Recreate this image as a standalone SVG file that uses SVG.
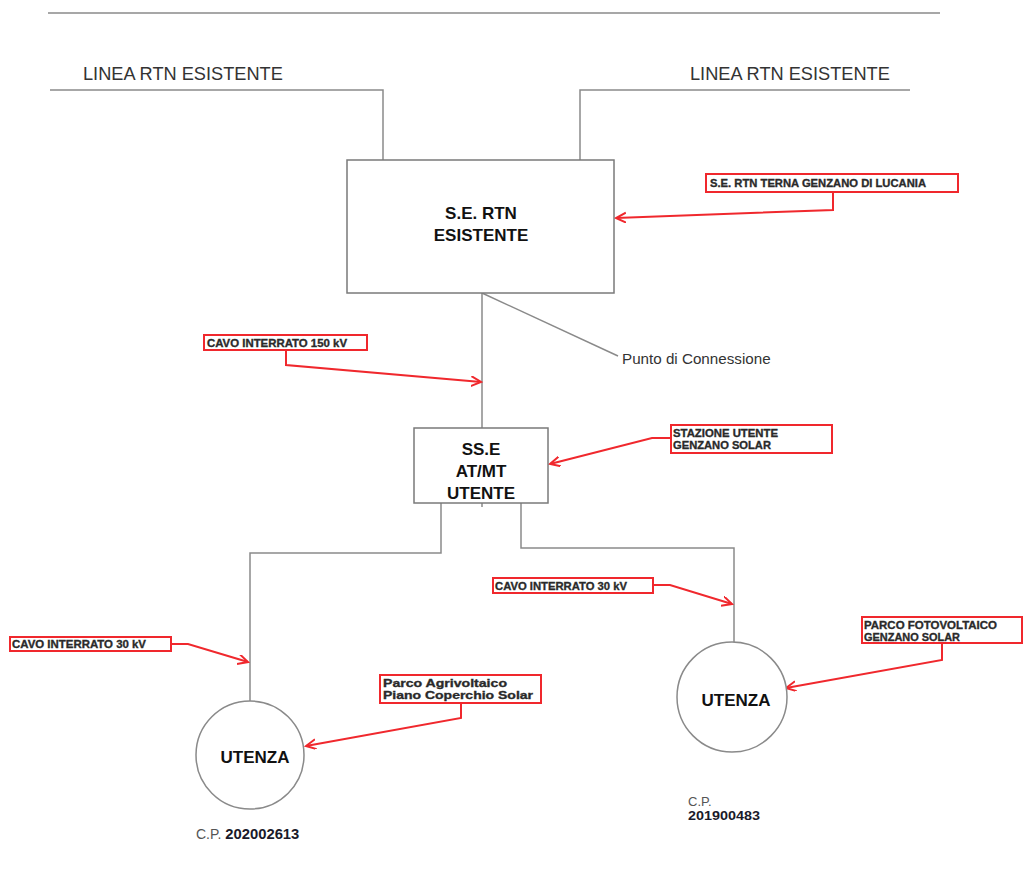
<svg xmlns="http://www.w3.org/2000/svg" width="1024" height="891" viewBox="0 0 1024 891">
<style>
.ln{stroke:#8a8a8a;stroke-width:1.5;fill:none}
.box{fill:#fff;stroke:#7a7a7a;stroke-width:1.5}
.rbox{fill:#fff;stroke:#f0282d;stroke-width:2}
.rl{stroke:#f0282d;stroke-width:2;fill:none}
.big{font-family:"Liberation Sans",Arial,sans-serif;font-size:17px;font-weight:bold;fill:#111;text-anchor:middle}
.lab{font-family:"Liberation Sans",Arial,sans-serif;font-size:10px;font-weight:bold;fill:#2a2a2a;stroke:#2a2a2a;stroke-width:0.3}
.reg{font-family:"Liberation Sans",Arial,sans-serif;font-size:18.2px;fill:#333}
</style>
<defs>
<marker id="ah" markerWidth="12" markerHeight="12" refX="10" refY="5" orient="auto" markerUnits="userSpaceOnUse">
<polyline points="0,0 10,5 0,10" fill="none" stroke="#f0282d" stroke-width="2"/>
</marker>
</defs>
<rect width="1024" height="891" fill="#fff"/>
<g id="connectors">
<line class="ln" x1="48" y1="13" x2="940" y2="13"/>
<polyline class="ln" points="50,90 383,90 383,160"/>
<polyline class="ln" points="910,90 580,90 580,160"/>
<line class="ln" x1="482" y1="293" x2="482" y2="428"/>
<line class="ln" x1="482" y1="293" x2="618" y2="356" stroke-width="1.2"/>
<polyline class="ln" points="441,503 441,553 250,553 250,701"/>
<polyline class="ln" points="521,503 521,548 734,548 734,642"/>
<line class="ln" x1="482" y1="503" x2="482" y2="507"/>
<polyline class="rl" points="833,192 833,210 616,218" marker-end="url(#ah)"/>
<polyline class="rl" points="286,350 286,365 481,382" marker-end="url(#ah)"/>
<polyline class="rl" points="671,438 652,438 550,464" marker-end="url(#ah)"/>
<polyline class="rl" points="171,644 188,644 248,662" marker-end="url(#ah)"/>
<polyline class="rl" points="653,585 670,585 732,604" marker-end="url(#ah)"/>
<polyline class="rl" points="461,703 461,718 306,746" marker-end="url(#ah)"/>
<polyline class="rl" points="942,643 942,660 786,688" marker-end="url(#ah)"/>
</g>
<g id="linea-left"><text class="reg" x="83" y="80">LINEA RTN ESISTENTE</text></g>
<g id="linea-right"><text class="reg" x="690" y="80">LINEA RTN ESISTENTE</text></g>
<g id="se-rtn">
<rect class="box" x="347" y="160" width="267" height="133"/>
<text class="big" x="481" y="219">S.E. RTN</text>
<text class="big" x="481" y="241">ESISTENTE</text>
</g>
<g id="label-se-rtn">
<rect class="rbox" x="706" y="174" width="252" height="18"/>
<text class="lab" x="710" y="187" textLength="216" lengthAdjust="spacingAndGlyphs">S.E. RTN TERNA GENZANO DI LUCANIA</text>
</g>
<g id="punto"><text x="622" y="364" font-family="Liberation Sans,Arial,sans-serif" font-size="15.2" fill="#333">Punto di Connessione</text></g>
<g id="label-150">
<rect class="rbox" x="204" y="335" width="163" height="15"/>
<text class="lab" x="207" y="346.5" textLength="140" lengthAdjust="spacingAndGlyphs">CAVO INTERRATO 150 kV</text>
</g>
<g id="sse">
<rect class="box" x="414" y="428" width="134" height="75"/>
<text class="big" x="481" y="455">SS.E</text>
<text class="big" x="481" y="477">AT/MT</text>
<text class="big" x="481" y="499">UTENTE</text>
</g>
<g id="label-stazione">
<rect class="rbox" x="671" y="425" width="161" height="28"/>
<text class="lab" x="673" y="436.5" textLength="105" lengthAdjust="spacingAndGlyphs">STAZIONE UTENTE</text>
<text class="lab" x="673" y="448.5" textLength="98" lengthAdjust="spacingAndGlyphs">GENZANO SOLAR</text>
</g>
<g id="label-30-left">
<rect class="rbox" x="10" y="637" width="161" height="14"/>
<text class="lab" x="12" y="648" textLength="134" lengthAdjust="spacingAndGlyphs">CAVO INTERRATO 30 kV</text>
</g>
<g id="label-30-right">
<rect class="rbox" x="493" y="578" width="160" height="15"/>
<text class="lab" x="495" y="589.5" textLength="132" lengthAdjust="spacingAndGlyphs">CAVO INTERRATO 30 kV</text>
</g>
<g id="utenza-left">
<circle cx="250" cy="755" r="54" fill="#fff" stroke="#8a8a8a" stroke-width="1.5"/>
<text class="big" x="255" y="763">UTENZA</text>
</g>
<g id="utenza-right">
<circle cx="732" cy="697" r="55" fill="#fff" stroke="#8a8a8a" stroke-width="1.5"/>
<text class="big" x="736" y="706">UTENZA</text>
</g>
<g id="label-agri">
<rect class="rbox" x="380" y="675" width="161" height="28"/>
<text class="lab" x="383" y="687" fill="#1a1a40" stroke="#1a1a40" textLength="124" lengthAdjust="spacingAndGlyphs">Parco Agrivoltaico</text>
<text class="lab" x="383" y="699" fill="#1a1a40" stroke="#1a1a40" textLength="150" lengthAdjust="spacingAndGlyphs">Piano Coperchio Solar</text>
</g>
<g id="label-foto">
<rect class="rbox" x="862" y="617" width="160" height="26"/>
<text class="lab" x="864" y="628.5" textLength="133" lengthAdjust="spacingAndGlyphs">PARCO FOTOVOLTAICO</text>
<text class="lab" x="864" y="640.5" textLength="96" lengthAdjust="spacingAndGlyphs">GENZANO SOLAR</text>
</g>
<g id="cp-left"><text x="196" y="839" font-family="Liberation Sans,Arial,sans-serif" font-size="14" fill="#555">C.P. <tspan font-weight="bold" fill="#1a1a2a" textLength="74" lengthAdjust="spacingAndGlyphs">202002613</tspan></text></g>
<g id="cp-right">
<text x="688" y="806" font-family="Liberation Sans,Arial,sans-serif" font-size="13" fill="#555">C.P.</text>
<text x="688" y="820" font-family="Liberation Sans,Arial,sans-serif" font-size="13" font-weight="bold" fill="#1a1a2a" textLength="72" lengthAdjust="spacingAndGlyphs">201900483</text>
</g>
</svg>
